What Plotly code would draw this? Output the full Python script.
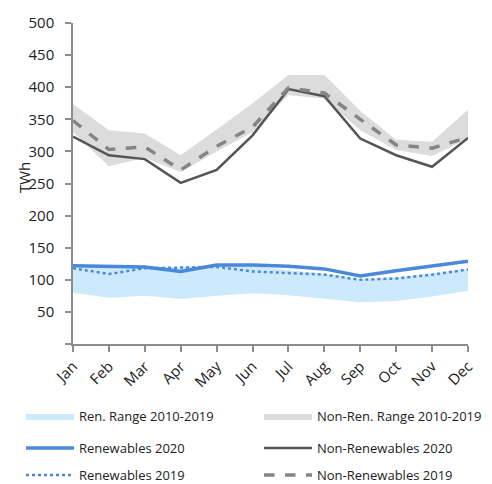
import plotly.graph_objects as go

months = ["Jan", "Feb", "Mar", "Apr", "May", "Jun", "Jul", "Aug", "Sep", "Oct", "Nov", "Dec"]

ren_2020 = [122, 121, 120, 113, 123, 123, 121, 117, 106, 114, 122, 129]
ren_2019 = [118, 109, 118, 119, 120, 113, 111, 108, 100, 102, 108, 116]
ren_max = [123, 122, 121, 120, 124, 122, 115, 110, 101, 104, 110, 117]
ren_min = [80, 72, 75, 70, 75, 79, 76, 71, 65, 67, 74, 83]

nonren_2020 = [323, 294, 288, 251, 271, 325, 397, 386, 320, 294, 276, 321]
nonren_2019 = [348, 303, 307, 271, 308, 338, 399, 391, 350, 310, 305, 322]
nonren_max = [374, 333, 328, 294, 334, 375, 419, 419, 363, 318, 315, 365]
nonren_min = [330, 277, 290, 268, 300, 330, 388, 382, 333, 302, 293, 320]

y_tickvals = [0, 50, 100, 150, 200, 250, 300, 350, 400, 450, 500]
y_ticktext = ["", "50", "100", "150", "200", "250", "300", "350", "400", "450", "500"]

BLUE = "#4a88da"
BLUE_BAND = "#cdeafd"
GRAY_BAND = "#dcdcdc"
DARK = "#555555"
MID = "#858585"
FONT = "Open Sans"
TXT = "#222222"

fig = go.Figure()

# Ren range band
fig.add_trace(go.Scatter(x=months, y=ren_min, mode="lines", line=dict(width=0, color=BLUE_BAND),
                         showlegend=False, hoverinfo="skip"))
fig.add_trace(go.Scatter(x=months, y=ren_max, mode="lines", line=dict(width=0, color=BLUE_BAND),
                         fill="tonexty", fillcolor=BLUE_BAND, name="Ren. Range 2010-2019", legend="legend"))
# Non-ren range band
fig.add_trace(go.Scatter(x=months, y=nonren_min, mode="lines", line=dict(width=0, color=GRAY_BAND),
                         showlegend=False, hoverinfo="skip"))
fig.add_trace(go.Scatter(x=months, y=nonren_max, mode="lines", line=dict(width=0, color=GRAY_BAND),
                         fill="tonexty", fillcolor=GRAY_BAND, name="Non-Ren. Range 2010-2019", legend="legend2"))

fig.add_trace(go.Scatter(x=months, y=ren_2020, mode="lines", line=dict(color=BLUE, width=3.5),
                         name="Renewables 2020", legend="legend3"))
fig.add_trace(go.Scatter(x=months, y=nonren_2020, mode="lines", line=dict(color=DARK, width=2.5),
                         name="Non-Renewables 2020", legend="legend4"))
fig.add_trace(go.Scatter(x=months, y=ren_2019, mode="lines", line=dict(color=BLUE, width=2.5, dash="dot"),
                         name="Renewables 2019", legend="legend5"))
fig.add_trace(go.Scatter(x=months, y=nonren_2019, mode="lines", line=dict(color=MID, width=3.5, dash="dash"),
                         name="Non-Renewables 2019", legend="legend6"))

# page is offset by the 8px body margin; plot area in page pixels: x 73..468, y 23..344
PL, PR, PT, PB = 73, 468, 23, 344
PW, PH = PR - PL, PB - PT

def lx(px):
    return (px - PL) / PW

def ly(py):
    return (PB - py) / PH

leg_common = dict(orientation="v", xanchor="left", yanchor="middle",
                  font=dict(family=FONT, size=13, color=TXT),
                  bgcolor="rgba(0,0,0,0)", itemwidth=48)

col1, col2 = lx(21), lx(259)
row1, row2, row3 = ly(416), ly(448), ly(475)

fig.update_layout(
    width=484, height=476,
    margin=dict(l=PL - 8, r=484 - (PR - 8), t=PT - 8, b=476 - (PB - 8), autoexpand=False),
    paper_bgcolor="white", plot_bgcolor="white",
    font=dict(family=FONT, size=15, color=TXT),
    legend=dict(leg_common, x=col1, y=row1),
    legend2=dict(leg_common, x=col2, y=row1),
    legend3=dict(leg_common, x=col1, y=row2),
    legend4=dict(leg_common, x=col2, y=row2),
    legend5=dict(leg_common, x=col1, y=row3),
    legend6=dict(leg_common, x=col2, y=row3),
    xaxis=dict(type="category", range=[0, 11], showgrid=False, showline=True,
               linecolor="#8c8c8c", linewidth=1.5, ticks="outside", ticklen=6,
               tickcolor="#8c8c8c", tickwidth=1.5, tickangle=-45,
               tickfont=dict(family=FONT, size=15, color=TXT), zeroline=False),
    yaxis=dict(range=[0, 500], tickvals=y_tickvals, ticktext=y_ticktext, showgrid=False,
               showline=True, linecolor="#8c8c8c", linewidth=1.5, ticks="outside", ticklen=6,
               tickcolor="#8c8c8c", tickwidth=1.5, ticklabelstandoff=8,
               tickfont=dict(family=FONT, size=15, color=TXT), zeroline=False),
    annotations=[dict(text="TWh", textangle=-90, xref="paper", yref="paper",
                      x=lx(24), y=ly(178), xanchor="center", yanchor="middle", showarrow=False,
                      font=dict(family=FONT, size=15, color=TXT))],
)

fig.write_html("out.html")
